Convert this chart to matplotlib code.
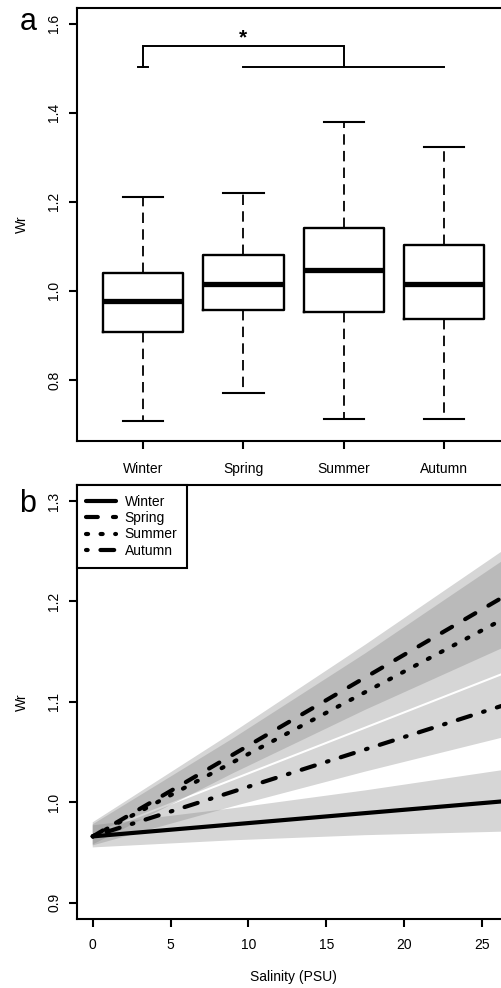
import matplotlib
matplotlib.use('Agg')
import matplotlib.pyplot as plt

plt.rcParams['font.family'] = ['Liberation Sans', 'DejaVu Sans']
plt.rcParams['font.size'] = 10
plt.rcParams['lines.scale_dashes'] = False

# ── panel a: Wr by season (box plot summary) ─────────────────────────────────
seasons = ['Winter', 'Spring', 'Summer', 'Autumn']
wr_whislo = [0.708, 0.771, 0.712, 0.712]
wr_q1 = [0.907, 0.957, 0.952, 0.937]
wr_med = [0.977, 1.015, 1.047, 1.015]
wr_q3 = [1.041, 1.081, 1.141, 1.103]
wr_whishi = [1.211, 1.219, 1.378, 1.322]

# significance bracket: Winter vs (Spring, Summer, Autumn)
sig_low = 1.502
sig_high = 1.550
sig_star_y = 1.567

# ── panel b: Wr vs salinity, fitted lines + confidence bands ─────────────────
salinity = [0.0, 26.8]
fit = {
    'Winter': [0.966, 1.0015],
    'Spring': [0.966, 1.2084],
    'Summer': [0.966, 1.186],
    'Autumn': [0.966, 1.0986],
}
band_salinity = [0.0, 9.0, 17.5, 26.8]
band_lo = {
    'Winter': [0.955, 0.9621, 0.9672, 0.9709],
    'Spring': [0.958, 1.0288, 1.0920, 1.1570],
    'Summer': [0.969, 1.0238, 1.0754, 1.1319],
    'Autumn': [0.957, 0.9958, 1.0305, 1.0663],
}
band_hi = {
    'Winter': [0.977, 0.9940, 1.0118, 1.0331],
    'Spring': [0.980, 1.0695, 1.1568, 1.2554],
    'Summer': [0.978, 1.0635, 1.1482, 1.2455],
    'Autumn': [0.967, 1.0216, 1.0732, 1.1297],
}
line_dash = {
    'Winter': '-',
    'Spring': (0, (8.5, 10.9)),
    'Summer': (0, (1.5, 9.0)),
    'Autumn': (0, (1.2, 9.2, 9.9, 9.2)),
}

W, H = 501, 988
fig = plt.figure(figsize=(W / 100, H / 100), dpi=100)

ax_left = 76.7 / W
ax_w = (510.6 - 76.7) / W
ax1 = fig.add_axes([ax_left, 1 - 441 / H, ax_w, (441 - 8) / H])
ax2 = fig.add_axes([ax_left, 1 - 918.7 / H, ax_w, (918.7 - 485) / H])

for ax in (ax1, ax2):
    for sp in ax.spines.values():
        sp.set_linewidth(1.5)
    ax.tick_params(direction='out', length=6, width=1.5, labelsize=10)
    ax.tick_params(axis='y', labelrotation=90, pad=5)

# panel a
stats = []
for i, s in enumerate(seasons):
    stats.append(dict(label=s, whislo=wr_whislo[i], q1=wr_q1[i], med=wr_med[i],
                      q3=wr_q3[i], whishi=wr_whishi[i]))
pos = list(range(1, len(seasons) + 1))
ax1.bxp(stats, positions=pos, widths=0.8, capwidths=0.4, showfliers=False,
        boxprops=dict(linewidth=1.7, color='black'),
        medianprops=dict(linewidth=3.8, color='black', solid_capstyle='butt'),
        whiskerprops=dict(linewidth=1.3, color='black', linestyle=(0, (7.5, 4.5))),
        capprops=dict(linewidth=1.5, color='black'))

ax1.plot([pos[0], pos[0], pos[2], pos[2]], [sig_low, sig_high, sig_high, sig_low],
         color='black', lw=1.4, solid_joinstyle='miter')
ax1.plot([pos[1], pos[3]], [sig_low, sig_low], color='black', lw=1.4)
ax1.plot([pos[0] - 0.05, pos[0] + 0.05], [sig_low, sig_low], color='black', lw=1.4)
ax1.text(pos[1], sig_star_y, '*', ha='center', va='center', fontsize=15, fontweight='bold')

ax1.set_xlim(0.34, 4.66)
ax1.set_ylim(0.663, 1.635)
ax1.set_xticks(pos)
ax1.set_xticklabels(seasons)
ax1.tick_params(axis='x', pad=9)
ax1.set_yticks([0.8, 1.0, 1.2, 1.4, 1.6])
ax1.set_yticklabels(['0.8', '1.0', '1.2', '1.4', '1.6'], rotation=90, va='center')

# panel b
for s in seasons:
    ax2.fill_between(band_salinity, band_lo[s], band_hi[s], facecolor='#808080',
                     alpha=0.32, linewidth=0, zorder=1)
for s in seasons:
    ax2.plot(salinity, fit[s], color='black', lw=3.0, linestyle=line_dash[s],
             solid_capstyle='round', dash_capstyle='round', label=s, zorder=3)

leg = ax2.legend(loc='upper left', borderaxespad=0, fancybox=False, framealpha=1,
                 edgecolor='black', handlelength=2.1, handletextpad=0.65,
                 labelspacing=0.17, borderpad=0.7, fontsize=10)
leg.get_frame().set_linewidth(1.5)

ax2.set_xlim(-1.03, 26.84)
ax2.set_ylim(0.884, 1.316)
ax2.set_xticks([0, 5, 10, 15, 20, 25])
ax2.tick_params(axis='x', pad=8)
ax2.set_yticks([0.9, 1.0, 1.1, 1.2, 1.3])
ax2.set_yticklabels(['0.9', '1.0', '1.1', '1.2', '1.3'], rotation=90, va='center')

# labels
fig.text(22 / W, 1 - 224 / H, 'Wr', rotation=90, ha='center', va='center', fontsize=10)
fig.text(22 / W, 1 - 702 / H, 'Wr', rotation=90, ha='center', va='center', fontsize=10)
fig.text(293.5 / W, 1 - 976.7 / H, 'Salinity (PSU)', ha='center', va='center', fontsize=10)
fig.text(28 / W, 1 - 30 / H, 'a', ha='center', va='baseline', fontsize=22)
fig.text(28 / W, 1 - 512 / H, 'b', ha='center', va='baseline', fontsize=22)

fig.savefig('out.png', dpi=100)
